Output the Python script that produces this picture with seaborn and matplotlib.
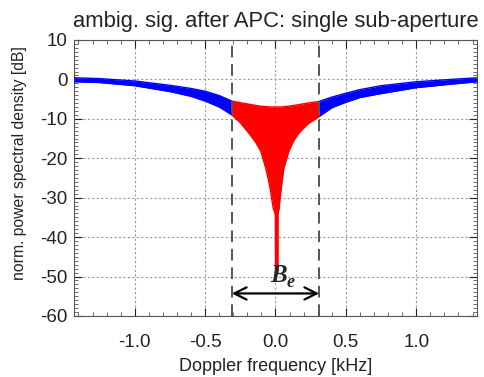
import numpy as np
import pandas as pd
import matplotlib
matplotlib.use("Agg")
import matplotlib.pyplot as plt
import seaborn as sns
from matplotlib.ticker import MultipleLocator

# ---- data ----
f_blue_left = [-1.43, -1.25, -1.0, -0.75, -0.6, -0.5, -0.4, -0.31]
up_blue_left = [0.4, 0.2, -0.4, -1.5, -2.3, -3.0, -4.1, -5.5]
lo_blue_left = [-0.6, -0.8, -1.6, -3.1, -4.3, -5.5, -7.0, -9.0]

f_blue_right = [0.31, 0.4, 0.5, 0.6, 0.75, 1.0, 1.25, 1.43]
up_blue_right = [-5.6, -4.5, -3.5, -2.6, -1.6, -0.6, 0.0, 0.4]
lo_blue_right = [-9.4, -7.2, -5.8, -4.6, -3.6, -2.1, -1.2, -0.6]

f_red = [-0.31, -0.25, -0.19, -0.14, -0.105, -0.07, -0.05, -0.035, -0.017,
         -0.006, -0.001, 0.0, 0.017, 0.018, 0.025, 0.036, 0.05, 0.06,
         0.095, 0.13, 0.166, 0.23, 0.31]
up_red = [-5.5, -5.9, -6.3, -6.6, -6.8, -6.9, -6.95, -7.0, -7.0,
          -7.0, -7.0, -7.0, -7.0, -7.0, -7.0, -7.0, -6.95, -6.9,
          -6.8, -6.6, -6.4, -6.0, -5.6]
lo_red = [-9.0, -11.0, -13.6, -16.0, -18.2, -22.4, -25.5, -28.3, -32.5,
          -33.8, -34.5, -49.0, -49.0, -34.0, -32.8, -29.0, -25.0, -22.4,
          -18.2, -15.5, -13.6, -11.3, -9.4]

be_edges = [-0.31, 0.31]       # kHz, dashed bandwidth markers
x_ticks = [-1.0, -0.5, 0.0, 0.5, 1.0]
y_ticks = [-60, -50, -40, -30, -20, -10, 0, 10]

# ---- style ----
sns.set_theme(style="ticks")
plt.rcParams["font.family"] = ["Liberation Sans", "DejaVu Sans"]

fig = plt.figure(figsize=(4.85, 3.77), dpi=100)
ax = fig.add_axes([0.153, 0.162, 0.830, 0.732])

df = pd.concat([
    pd.DataFrame({"f": f_blue_left, "up": up_blue_left, "lo": lo_blue_left, "seg": "bl"}),
    pd.DataFrame({"f": f_blue_right, "up": up_blue_right, "lo": lo_blue_right, "seg": "br"}),
    pd.DataFrame({"f": f_red, "up": up_red, "lo": lo_red, "seg": "r"}),
])
colors = {"bl": "#0000ff", "br": "#0000ff", "r": "#ff0000"}

for seg, g in df.groupby("seg"):
    ax.fill_between(g["f"], g["lo"], g["up"], color=colors[seg], lw=0, zorder=3)

long = df.melt(id_vars=["f", "seg"], value_vars=["up", "lo"], var_name="edge", value_name="db")
long["key"] = long["seg"] + long["edge"]
sns.lineplot(data=long, x="f", y="db", hue="seg", units="key", estimator=None,
             palette=colors, legend=False, lw=1.0, sort=True, ax=ax, zorder=3)

# dashed B_e markers
for xv in be_edges:
    ax.axvline(xv, color="#555555", lw=1.4, ls=(0, (6, 3.5)), zorder=4)

ax.annotate("", xy=(be_edges[0], -54.3), xytext=(be_edges[1], -54.3),
            arrowprops=dict(arrowstyle="<->", color="black", lw=1.6,
                            mutation_scale=22, shrinkA=0, shrinkB=0), zorder=5)
ax.text(0.02, -51.3, "B", fontsize=18, fontweight="bold", fontstyle="italic",
        family="Liberation Serif", ha="center", va="baseline", zorder=6)
ax.text(0.105, -52.6, "e", fontsize=13, fontweight="bold", fontstyle="italic",
        family="Liberation Serif", ha="center", va="baseline", zorder=6)

ax.set_xlim(-1.43, 1.43)
ax.set_ylim(-60, 10)
ax.set_xticks(x_ticks)
ax.set_xticklabels([f"{v:.1f}" for v in x_ticks])
ax.set_yticks(y_ticks)
ax.set_yticklabels([str(v) for v in y_ticks])
ax.xaxis.set_minor_locator(MultipleLocator(0.1))
ax.yaxis.set_minor_locator(MultipleLocator(1))
ax.grid(True, which="major", color="#999999", ls=(0, (2, 2)), lw=0.8, zorder=0)
ax.tick_params(which="both", direction="in", top=True, right=True, color="#555555")
ax.tick_params(which="major", length=6, width=0.8, labelsize=13.5, colors="#222222")
ax.tick_params(which="minor", length=3, width=0.6)
ax.tick_params(axis="x", which="major", pad=13)
ax.tick_params(axis="y", which="major", pad=5)
for s in ax.spines.values():
    s.set_color("#555555")
    s.set_linewidth(0.8)

ax.set_xlabel("Doppler frequency [kHz]", fontsize=13, color="#222222", labelpad=5)
ax.set_ylabel("norm. power spectral density [dB]", fontsize=11.3, color="#222222")
ax.yaxis.set_label_coords(-0.118, 0.555)
ax.set_title("ambig. sig. after APC: single sub-aperture", fontsize=15.8, color="#222222", pad=9)

fig.savefig("out.png", dpi=100)
